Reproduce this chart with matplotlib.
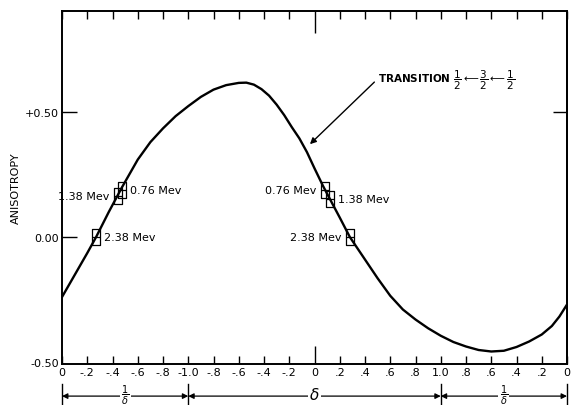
import numpy as np
import matplotlib
matplotlib.use("Agg")
import matplotlib.pyplot as plt
from matplotlib.path import Path
from matplotlib.transforms import blended_transform_factory

# x positions are in tick steps (0..20), one step = 0.2 on the printed scale
x_ticklabels = ["0", "-.2", "-.4", "-.6", "-.8", "-1.0", "-.8", "-.6", "-.4", "-.2",
                "0", ".2", ".4", ".6", ".8", "1.0", ".8", ".6", ".4", ".2", "0"]

# curve
curve_x = [0.0, 0.5, 1.0, 1.35, 1.85, 2.38, 3.0, 3.5, 4.0, 4.5, 5.0, 5.5, 6.0, 6.5,
           7.0, 7.3, 7.6, 7.9, 8.2, 8.5, 8.8, 9.1, 9.4, 9.7, 10.0, 10.34, 10.7,
           11.0, 11.4, 12.0, 12.5, 13.0, 13.5, 14.0, 14.5, 15.0, 15.5, 16.0, 16.5,
           17.0, 17.5, 18.0, 18.5, 19.0, 19.4, 19.7, 20.0]
curve_y = [-0.24, -0.152, -0.064, 0.0, 0.1, 0.2, 0.31, 0.38, 0.435, 0.484, 0.524,
           0.561, 0.59, 0.608, 0.617, 0.618, 0.61, 0.592, 0.566, 0.53, 0.488, 0.44,
           0.395, 0.34, 0.275, 0.204, 0.135, 0.078, 0.0, -0.09, -0.165, -0.235,
           -0.29, -0.33, -0.365, -0.395, -0.42, -0.438, -0.452, -0.458, -0.455,
           -0.44, -0.418, -0.39, -0.356, -0.318, -0.27]

# measured points
pt_labels = ["0.76 Mev", "1.38 Mev", "2.38 Mev", "0.76 Mev", "1.38 Mev", "2.38 Mev"]
pt_x = [2.38, 2.22, 1.35, 10.42, 10.6, 11.4]
pt_y = [0.19, 0.164, 0.0, 0.19, 0.152, 0.0]
pt_side = ["right", "left", "right", "left", "right", "left"]

# ranges under the axis
regions = [(0, 5, r"$\dfrac{1}{\delta}$"), (5, 15, r"$\delta$"), (15, 20, r"$\dfrac{1}{\delta}$")]

fig = plt.figure(figsize=(5.71, 4.06), dpi=100)
ax = fig.add_axes([0.1086, 0.101, 0.8844, 0.869])

ax.plot(curve_x, curve_y, color="black", lw=1.7, solid_capstyle="round",
        solid_joinstyle="round")

# double-square box marker
box = Path([(-0.5, -1), (0.5, -1), (0.5, 1), (-0.5, 1), (-0.5, -1), (-0.5, 0), (0.5, 0)],
           [Path.MOVETO, Path.LINETO, Path.LINETO, Path.LINETO, Path.CLOSEPOLY,
            Path.MOVETO, Path.LINETO])
ax.plot(pt_x, pt_y, linestyle="none", marker=box, ms=11, mfc="none", mec="black", mew=0.9)
for lab, x, y, side in zip(pt_labels, pt_x, pt_y, pt_side):
    dx = 6 if side == "right" else -6
    ax.annotate(lab, (x, y), textcoords="offset points", xytext=(dx, 0),
                ha="left" if side == "right" else "right", va="center", fontsize=8)

ax.set_xlim(0, 20)
ax.set_ylim(-0.508, 0.904)
ax.set_xticks(np.arange(21))
ax.set_xticklabels(x_ticklabels, fontsize=8)
ax.set_yticks([-0.5, 0.0, 0.5])
ax.set_yticklabels(["-0.50", "0.00", "+0.50"], fontsize=8)
ax.tick_params(axis="x", direction="in", length=6, width=1, top=True, pad=2)
ax.tick_params(axis="y", direction="in", length=11, width=1, pad=2)
ax.xaxis.get_major_ticks()[10].tick1line.set_markersize(13)
ax.xaxis.get_major_ticks()[10].tick2line.set_markersize(16)
ax.yaxis.get_major_ticks()[0].tick1line.set_visible(False)
for s in ax.spines.values():
    s.set_linewidth(1.4)

sec = ax.secondary_yaxis("right")
sec.set_yticks([0.5])
sec.tick_params(direction="in", length=10, width=1, labelright=False)
sec.spines["right"].set_linewidth(1.4)

ax.set_ylabel("ANISOTROPY", fontsize=8, labelpad=3)

# transition label with arrow
ax.annotate("", xy=(9.74, 0.364), xytext=(12.45, 0.628),
            arrowprops=dict(arrowstyle="-|>", color="black", lw=1.0, mutation_scale=9))
ax.text(12.5, 0.63,
        r"TRANSITION $\dfrac{1}{2}\longleftarrow\dfrac{3}{2}\longleftarrow\dfrac{1}{2}$",
        fontsize=7.5, fontweight="bold", ha="left", va="center")

# ranges below the axis
trans = blended_transform_factory(ax.transData, ax.transAxes)
for x0, x1, lab in regions:
    ax.annotate("", xy=(x0, -0.091), xytext=(x1, -0.091), xycoords=trans, textcoords=trans,
                arrowprops=dict(arrowstyle="<|-|>", color="black", lw=0.9,
                                mutation_scale=8, shrinkA=0, shrinkB=0),
                annotation_clip=False)
    fs = 7 if "frac" in lab else 11
    ax.text((x0 + x1) / 2, -0.085, lab, transform=trans, ha="center", va="center",
            fontsize=fs, bbox=dict(facecolor="white", edgecolor="none", pad=1.0),
            clip_on=False)
for xb in [0, 5, 15, 20]:
    ax.plot([xb, xb], [-0.057, -0.118], transform=trans, color="black", lw=1.0, clip_on=False)

fig.savefig("out.png", dpi=100)
